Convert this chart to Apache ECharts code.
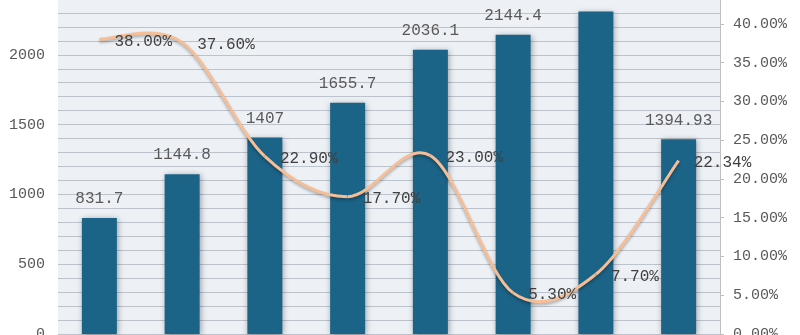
<!DOCTYPE html>
<html><head><meta charset="utf-8">
<script src="https://cdn.jsdelivr.net/npm/echarts@6/dist/echarts.min.js"></script>
<style>html,body{margin:0;padding:0;background:#fff;overflow:hidden;width:800px;height:335px;position:relative}
#c{position:absolute;left:0;top:-15px;width:800px;height:350px}</style>
</head><body><div id="c"></div>
<script>
var categories = ['1','2','3','4','5','6','7','8'];
var barValues = [831.7, 1144.8, 1407, 1655.7, 2036.1, 2144.4, 2309.5, 1394.93];
var growthRates = [38.00, 37.60, 22.90, 17.70, 23.00, 5.30, 7.70, 22.34];
var leftTicks = {min: 0, max: 2500, interval: 500};
var rightTicks = {min: 0, max: 45, interval: 5};

// segments of the smoothed growth curve: [i, y(i-1), y(i), y(i+1), y(i+2)] (ends clamped)
var n = growthRates.length;
var curveSegments = [];
for (var i = 0; i < n - 1; i++) {
  curveSegments.push([i,
    growthRates[Math.max(i - 1, 0)], growthRates[i],
    growthRates[i + 1], growthRates[Math.min(i + 2, n - 1)]]);
}

var FONT = 'Liberation Mono';
var LINE_COLOR = '#f6be96';
var chart = echarts.init(document.getElementById('c'));
chart.setOption({
  animation: false,
  grid: {left: 58, right: 80, top: 0, bottom: 1, show: true, backgroundColor: '#edf1f6', borderWidth: 0,
    outerBoundsMode: 'none', containLabel: false},
  xAxis: {
    type: 'category', data: categories,
    axisLine: {show: false}, axisTick: {show: false}, axisLabel: {show: false}
  },
  yAxis: [{
    type: 'value', min: leftTicks.min, max: leftTicks.max, interval: leftTicks.interval,
    axisLine: {show: false}, axisTick: {show: false},
    axisLabel: {color: '#595959', fontFamily: FONT, fontSize: 15, margin: 13,
      formatter: function (v) { return String(v); }},
    splitLine: {lineStyle: {color: '#bdc3ca', width: 1}},
    minorTick: {show: false, splitNumber: 5},
    minorSplitLine: {show: true, lineStyle: {color: '#bdc3ca', width: 1}}
  }, {
    type: 'value', min: rightTicks.min, max: rightTicks.max, interval: rightTicks.interval,
    position: 'right',
    axisLine: {show: true, lineStyle: {color: '#bfbfbf'}},
    axisTick: {show: true, length: 4, lineStyle: {color: '#bfbfbf'}},
    axisLabel: {color: '#595959', fontFamily: FONT, fontSize: 15, margin: 13,
      formatter: function (v) { return v.toFixed(2) + '%'; }},
    splitLine: {show: false}
  }],
  series: [{
    type: 'bar', data: barValues, barWidth: 35, yAxisIndex: 0,
    itemStyle: {color: '#1b6387', shadowColor: 'rgba(0,0,0,0.35)', shadowBlur: 6, shadowOffsetX: 1, shadowOffsetY: 1},
    label: {show: true, position: 'top', distance: 11, color: '#595959', fontFamily: FONT, fontSize: 16,
      formatter: function (p) { return String(p.value); }}
  }, {
    type: 'custom', yAxisIndex: 1, data: curveSegments, z: 3,
    encode: {x: 0, y: 2},
    renderItem: function (params, api) {
      var i = api.value(0);
      var p0 = api.coord([Math.max(i - 1, 0), api.value(1)]);
      var p1 = api.coord([i, api.value(2)]);
      var p2 = api.coord([i + 1, api.value(3)]);
      var p3 = api.coord([Math.min(i + 2, n - 1), api.value(4)]);
      var t = 1 / 6;
      return {
        type: 'bezierCurve',
        shape: {
          x1: p1[0], y1: p1[1], x2: p2[0], y2: p2[1],
          cpx1: p1[0] + (p2[0] - p0[0]) * t, cpy1: p1[1] + (p2[1] - p0[1]) * t,
          cpx2: p2[0] - (p3[0] - p1[0]) * t, cpy2: p2[1] - (p3[1] - p1[1]) * t
        },
        style: {fill: null, stroke: LINE_COLOR, lineWidth: 3,
          shadowColor: 'rgba(0,0,0,0.3)', shadowBlur: 3, shadowOffsetY: 2}
      };
    }
  }, {
    type: 'line', data: growthRates, yAxisIndex: 1, z: 4,
    symbol: 'circle', symbolSize: 2,
    itemStyle: {color: 'rgba(0,0,0,0)'},
    lineStyle: {opacity: 0, width: 0},
    label: {show: true, position: 'right', distance: 14, offset: [0, 2], color: '#404040', fontFamily: FONT, fontSize: 16,
      formatter: function (p) { return p.value.toFixed(2) + '%'; }}
  }]
});
</script></body></html>
